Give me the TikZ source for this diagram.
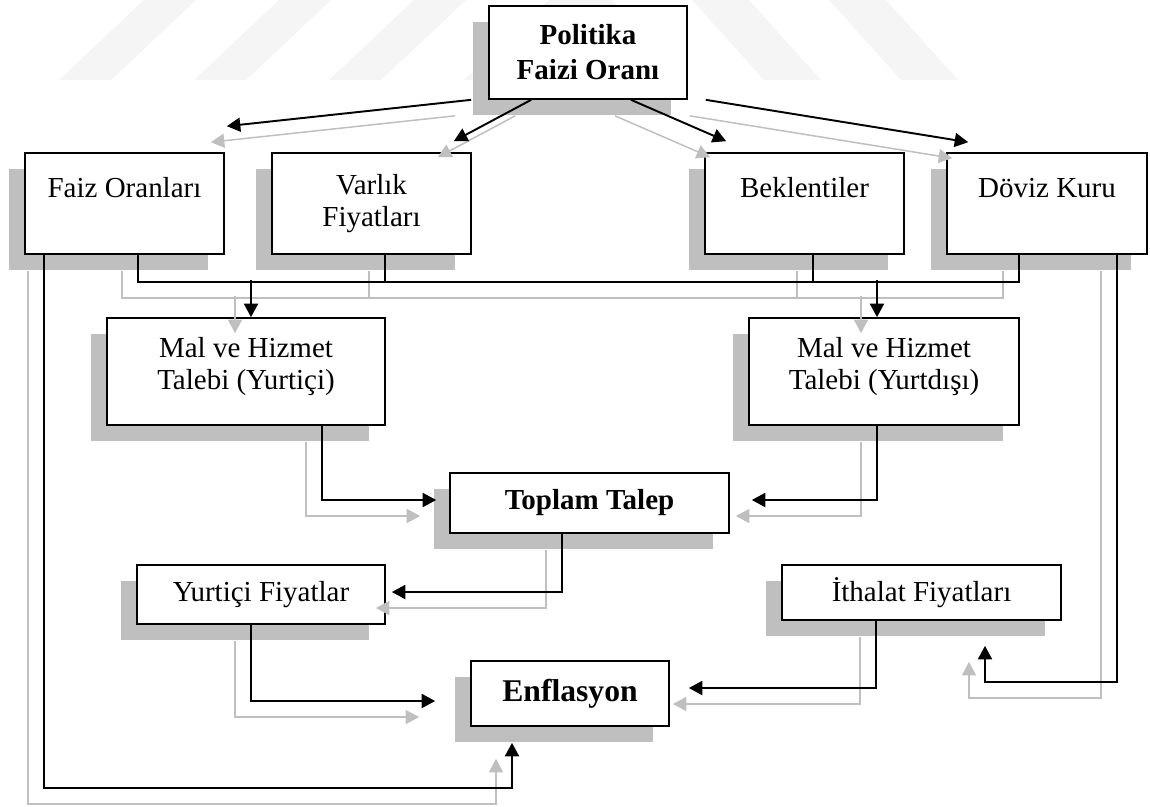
\documentclass[tikz,border=0pt]{standalone}
\usepackage{fontspec}
\setmainfont{Liberation Serif}
\usetikzlibrary{arrows.meta, calc, shadows}

\definecolor{shadowgrey}{RGB}{191,191,191}
\definecolor{markgrey}{RGB}{245,245,245}

\begin{document}
\begin{tikzpicture}[
            x=0.02cm, y=-0.02cm,
            >={Triangle[length=0.27cm, width=0.28cm]},
            every node/.style={font=\fontsize{16.5}{18.2}\selectfont},
            box/.style={
                draw, fill=white, line width=0.95pt, inner sep=0pt, align=center,
                drop shadow={shadow xshift=-0.32cm, shadow yshift=-0.32cm, fill=shadowgrey, opacity=1}
            },
            link/.style={line width=1.1pt, black},
            greylink/.style={line width=0.85pt, shadowgrey}
        ]
            \useasboundingbox (0,0) rectangle (1150,806);
            % faint watermark stripes
            \foreach \a in {59,194,329,464}
                \fill[markgrey] (\a,80) -- ++(52,0) -- ++(85,-80) -- ++(-52,0) -- cycle;
            \foreach \a in {555,692,829}
                \fill[markgrey] (\a,0) -- ++(57,0) -- ++(72,80) -- ++(-57,0) -- cycle;

            \node[box, font=\fontsize{16.5}{18.2}\selectfont\bfseries, minimum width=3.96cm, minimum height=1.86cm] (pol) at (588,52.5) {Politika\\[1.7pt]Faizi Oranı};

            \node[box, minimum width=3.98cm, minimum height=2.02cm] (faiz) at (124.5,203.5) {Faiz Oranları\\\mbox{}};
            \node[box, minimum width=3.98cm, minimum height=2.02cm] (varlik) at (371.5,203.5) {Varlık\\Fiyatları};
            \node[box, minimum width=3.98cm, minimum height=2.02cm] (bek) at (804.5,203.5) {Beklentiler\\\mbox{}};
            \node[box, minimum width=4cm, minimum height=2.02cm] (doviz) at (1047,203.5) {Döviz Kuru\\\mbox{}};

            \node[box, minimum width=5.56cm, minimum height=2.14cm] (malyi) at (246,371.5) {Mal ve Hizmet\\Talebi (Yurtiçi)\\[-9pt]\mbox{}};
            \node[box, minimum width=5.4cm, minimum height=2.14cm] (malyd) at (884,371.5) {Mal ve Hizmet\\Talebi (Yurtdışı)\\[-9pt]\mbox{}};

            \node[box, font=\fontsize{16.5}{18.2}\selectfont\bfseries, minimum width=5.58cm, minimum height=1.2cm] (toplam) at (589.5,503) {Toplam Talep};
            \node[box, minimum width=4.96cm, minimum height=1.18cm] (yfiyat) at (261,594.5) {Yurtiçi Fiyatlar};
            \node[box, minimum width=5.58cm, minimum height=1.1cm] (ithalat) at (921.5,592.5) {İthalat Fiyatları};
            \node[box, font=\fontsize{18}{20}\selectfont\bfseries, minimum width=3.96cm, minimum height=1.3cm] (enf) at (570,693.5) {Enflasyon};

            % grey shadow copy of every connector first, black one on top
            \foreach \sty/\sh in {greylink/{-16,16}, link/{0,0}}{
                \begin{scope}[transform canvas={shift={(\sh)}}]
                    \draw[\sty,->] ($(pol.south west)+(-17,0)$) -- ($(faiz.north east)+(2,-26)$);
                    \draw[\sty,->] ($(pol.south west)+(43,0)$) -- ($(varlik.north east)+(-18,-11)$);
                    \draw[\sty,->] ($(pol.south)+(43,0)$) -- ($(bek.north west)+(22,-11)$);
                    \draw[\sty,->] ($(pol.south east)+(18,0)$) -- ($(doviz.north west)+(22,-10)$);

                    \draw[\sty] ($(faiz.south)+(13.5,0)$) |- ($(doviz.south)+(-28,27)$) -- ($(doviz.south)+(-28,0)$);
                    \draw[\sty] ($(varlik.south)+(13.5,0)$) -- ++(0,27);
                    \draw[\sty] ($(bek.south)+(8.5,0)$) -- ++(0,27);
                    \draw[\sty,->] ($(malyi.north)+(5,-37)$) -- ($(malyi.north)+(5,0)$);
                    \draw[\sty,->] ($(malyd.north)+(-7,-37)$) -- ($(malyd.north)+(-7,0)$);

                    \draw[\sty,->] ($(faiz.south west)+(20,0)$) |- ($(enf.south)+(-58,61)$) -- ($(enf.south)+(-58,16)$);
                    \draw[\sty,->] ($(doviz.south east)+(-31,0)$) |- ($(ithalat.south)+(63.5,61)$) -- ($(ithalat.south)+(63.5,25)$);

                    \draw[\sty,->] ($(malyi.south)+(76,0)$) |- ($(toplam.west)+(-13,-3)$);
                    \draw[\sty,->] ($(malyd.south)+(-7,0)$) |- ($(toplam.east)+(22,-3)$);
                    \draw[\sty,->] ($(toplam.south)+(-27.5,0)$) |- ($(yfiyat.east)+(6,-2.5)$);
                    \draw[\sty,->] ($(yfiyat.south)+(-10,0)$) |- ($(enf.west)+(-35,7.5)$);
                    \draw[\sty,->] ($(ithalat.south)+(-45.5,0)$) |- ($(enf.east)+(19,-5.5)$);
                \end{scope}
            }
        \end{tikzpicture}
\end{document}
